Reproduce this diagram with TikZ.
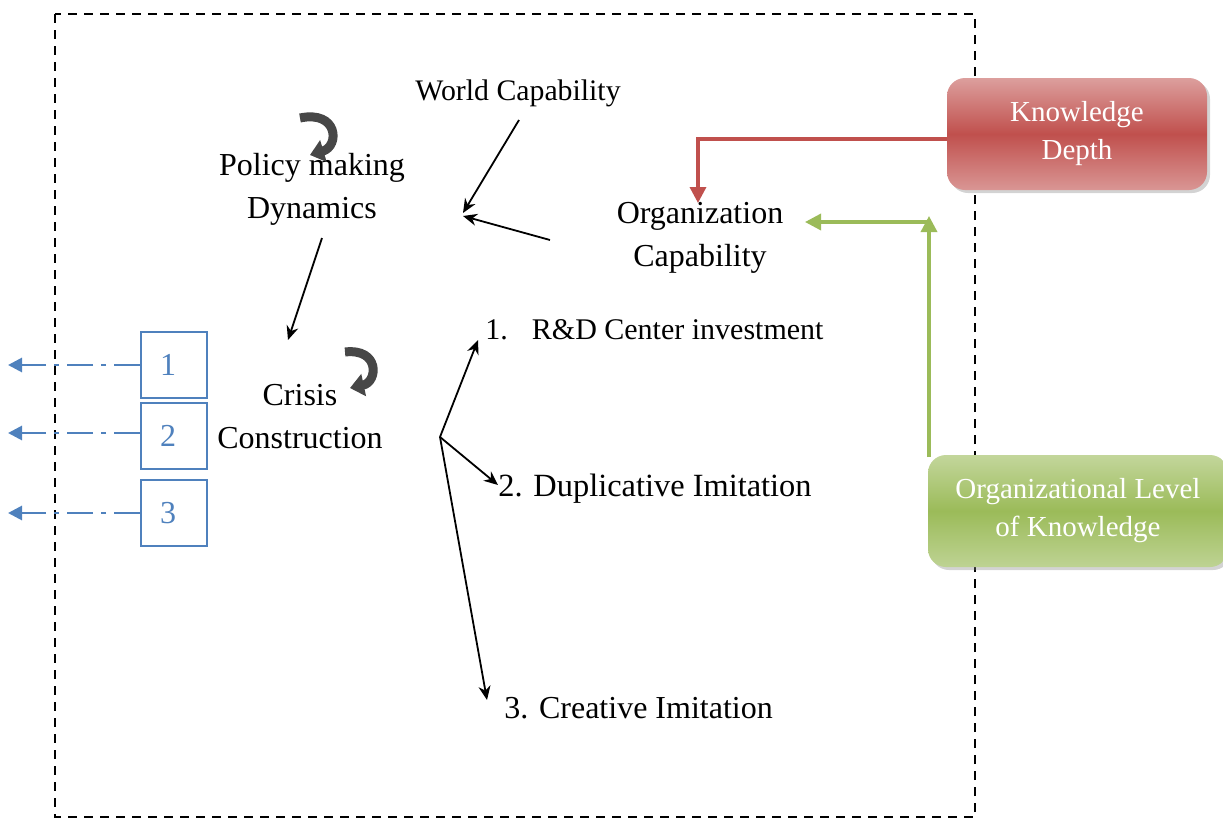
\documentclass[tikz,border=0pt]{standalone}
\usepackage{fontspec}
\setmainfont{Liberation Serif}
\usepackage{tikz}
\usetikzlibrary{arrows.meta, shadows}
\definecolor{kdred}{HTML}{C0504D}
\definecolor{klgreen}{HTML}{9BBB59}
\definecolor{numblue}{HTML}{4F81BD}

\begin{document}
\begin{tikzpicture}[x=0.5pt, y=-0.5pt,
    label/.style={align=center, inner sep=0pt, font=\fontsize{16}{21.5}\selectfont},
    item/.style={anchor=west, inner sep=0pt},
    numbox/.style={draw=numblue, line width=0.8pt, minimum width=33pt, minimum height=33pt, text=numblue, font=\fontsize{16}{19}\selectfont},
    infobox/.style={rounded corners=9pt, text=white, align=center, font=\fontsize{14.5}{19}\selectfont, drop shadow={opacity=0.35, shadow xshift=1.5pt, shadow yshift=-1.5pt}},
    link/.style={-{Stealth[length=7pt, width=6pt]}, line width=0.9pt},
    dashdot/.style={numblue, line width=1.4pt, dash pattern=on 13pt off 4pt on 2.5pt off 4pt, -{Triangle[length=7pt, width=7pt]}},
    redline/.style={kdred, line width=1.7pt, -{Triangle[length=8pt, width=8pt]}},
    greenline/.style={klgreen, line width=1.7pt, -{Triangle[length=8pt, width=8pt]}},
    iconarrow/.style={line width=4.5pt, black!72, -{Triangle[length=7pt, width=11pt]}}]
            \useasboundingbox (0, 0) rectangle (1223, 820);
            \draw [line width=1pt, dash pattern=on 4.5pt off 3.5pt] (55, 14) rectangle (975, 817);

            \node[label, font=\fontsize{14.9}{19}\selectfont] at (518, 93) (world) {World Capability};
            \node[label] at (312, 189) (policy) {Policy making\\Dynamics};
            \node[label] at (300, 417) (crisis) {Crisis\\Construction};
            \node[label] at (700, 238) (org) {Organization\\Capability};

            \node[item, font=\fontsize{15}{19}\selectfont] at (485, 330) (rd) {1.\hspace{12pt}R\&D Center investment};
            \node[item, font=\fontsize{16.2}{19}\selectfont] at (498, 489) (dup) {2. Duplicative Imitation};
            \node[item, font=\fontsize{16}{19}\selectfont] at (504, 708) (cre) {3. Creative Imitation};

            \node[numbox] at (174, 365) (n1) {\hspace{-6pt}1};
            \node[numbox] at (174, 436) (n2) {\hspace{-6pt}2};
            \node[numbox] at (174, 513) (n3) {\hspace{-6pt}3};

            \node[infobox, minimum width=130pt, minimum height=56pt, top color=kdred!55, bottom color=kdred!60, middle color=kdred] at (1077, 134) (depth) {Knowledge\\Depth};
            \node[infobox, minimum width=150pt, minimum height=56pt, top color=klgreen!60, bottom color=klgreen!65, middle color=klgreen] at (1078, 511) (level) {Organizational Level\\of Knowledge};

            \coordinate (wtail) at (519, 120);
            \coordinate (whead) at (463, 213);
            \coordinate (otail) at (550, 240);
            \coordinate (ohead) at (463, 216);
            \coordinate (ptail) at (322, 238);
            \coordinate (phead) at (288, 340);
            \coordinate (fan) at (440, 437);
            \coordinate (rdhead) at (478, 340);
            \coordinate (duphead) at (498, 485);
            \coordinate (crehead) at (487, 700);
            \coordinate (redturn) at (698, 139);
            \coordinate (redhead) at (698, 203);
            \coordinate (greenfoot) at (929, 457);
            \coordinate (greenturn) at (929, 216);
            \coordinate (greenhead) at (805, 222);
            \coordinate (out1) at (8, 365);
            \coordinate (out2) at (8, 433);
            \coordinate (out3) at (8, 513);

            \draw [link] (wtail) -- (whead);
            \draw [link] (otail) -- (ohead);
            \draw [link] (ptail) -- (phead);
            \draw [link] (fan) -- (rdhead);
            \draw [link] (fan) -- (duphead);
            \draw [link] (fan) -- (crehead);

            \draw [redline] (redturn -| depth.west) -- (redturn) -- (redhead);
            \draw [greenline] (greenfoot) -- (greenturn);
            \draw [greenline] (greenhead -| greenturn) -- (greenhead);

            \draw [dashdot] (n1.west) -- (out1);
            \draw [dashdot] (n2.west |- out2) -- (out2);
            \draw [dashdot] (n3.west) -- (out3);

            \draw [iconarrow] (300, 118) .. controls (338, 110) and (340, 146) .. (310, 155);
            \draw [iconarrow] (345, 352) .. controls (380, 348) and (378, 382) .. (350, 388);
        \end{tikzpicture}
\end{document}
